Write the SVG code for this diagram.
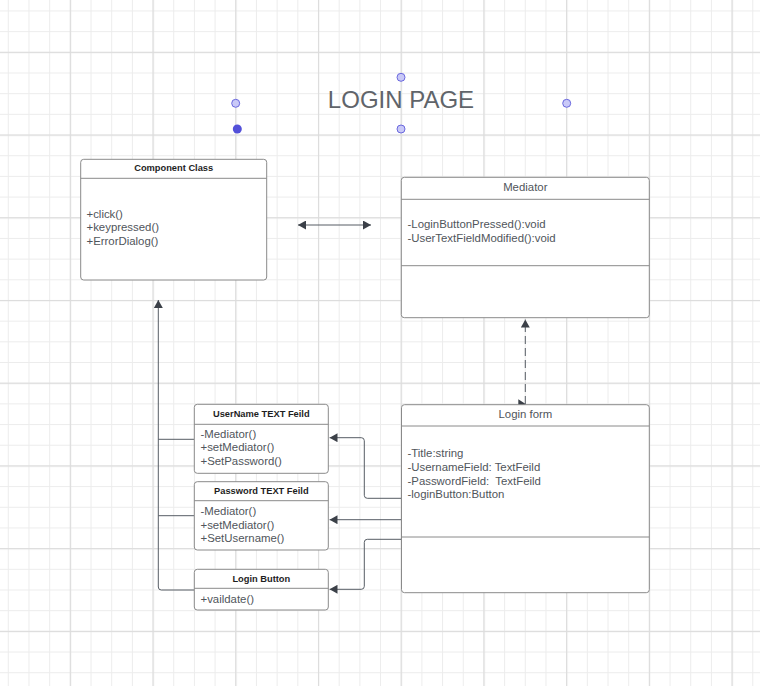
<svg xmlns="http://www.w3.org/2000/svg" width="760" height="686" viewBox="0 0 760 686">
<style>
.box{fill:#ffffff;stroke:#8a8a8a;stroke-width:1}
.div{stroke:#8a8a8a;stroke-width:1;fill:none}
.t{font-family:"Liberation Sans",Arial,sans-serif;font-size:11.4px;fill:#50555b;white-space:pre}
.b{font-family:"Liberation Sans",Arial,sans-serif;font-size:9.3px;font-weight:bold;fill:#1e1e1e;text-anchor:middle}
.h{font-family:"Liberation Sans",Arial,sans-serif;font-size:11.4px;fill:#50555b;text-anchor:middle}
.c{fill:none;stroke:#575d65;stroke-width:1}
.hl{fill:#c9c9f7;stroke:#6a68de;stroke-width:1}
</style>
<defs>
<pattern id="minor" x="7.8" y="10.46" width="20.68" height="20.68" patternUnits="userSpaceOnUse">
<rect x="0" y="0" width="1" height="20.68" fill="#ececec"/>
<rect x="0" y="0" width="20.68" height="1" fill="#ececec"/>
</pattern>
<pattern id="major" x="69.8" y="51.8" width="82.72" height="82.72" patternUnits="userSpaceOnUse">
<rect x="0" y="0" width="1.2" height="82.72" fill="#dcdcdc"/>
<rect x="0" y="0" width="82.72" height="1.2" fill="#dcdcdc"/>
</pattern>
<marker id="ah" viewBox="0 0 10 10" refX="10" refY="5" markerWidth="8" markerHeight="9" markerUnits="userSpaceOnUse" orient="auto-start-reverse" preserveAspectRatio="none">
<path d="M0 0 L10 5 L0 10 z" fill="#3b4048"/>
</marker>
</defs>
<rect width="760" height="686" fill="#ffffff"/>
<rect width="760" height="686" fill="url(#minor)"/>
<rect width="760" height="686" fill="url(#major)"/>

<g id="title">
<text x="401" y="108" font-family="'Liberation Sans',Arial,sans-serif" font-size="24" fill="#60646a" text-anchor="middle">LOGIN PAGE</text>
<circle class="hl" cx="235.7" cy="103.3" r="4"/>
<circle class="hl" cx="401" cy="77.3" r="4"/>
<circle class="hl" cx="566.7" cy="103.3" r="4"/>
<circle class="hl" cx="401" cy="129" r="4"/>
<circle cx="237.3" cy="129" r="4.5" fill="#5350d9"/>
</g>

<g id="connectors">
<path class="c" d="M194 590 H161.3 Q158.3 590 158.3 587 V300" marker-end="url(#ah)"/>
<path class="c" d="M194 439.3 H158.3"/>
<path class="c" d="M194 515.7 H158.3"/>
<path class="c" d="M298 225 H371" marker-start="url(#ah)" marker-end="url(#ah)"/>
<path class="c" d="M525.3 404 V319.5" stroke-dasharray="8 4" marker-end="url(#ah)"/>
<polygon points="518.3,399.3 526,404.3 518.3,409.3" fill="#3b4048"/>
<path class="c" d="M401.5 498.3 H367.3 Q364.3 498.3 364.3 495.3 V440.7 Q364.3 437.7 361.3 437.7 H329.5" marker-end="url(#ah)"/>
<path class="c" d="M401.5 519.7 H329.5" marker-end="url(#ah)"/>
<path class="c" d="M401.5 539.3 H367.3 Q364.3 539.3 364.3 542.3 V586.3 Q364.3 589.3 361.3 589.3 H329.5" marker-end="url(#ah)"/>
</g>

<g id="component-class">
<rect class="box" x="80.7" y="159.3" width="186" height="120.7" rx="3"/>
<path class="div" d="M80.7 178.3 H266.7"/>
<text class="b" x="173.7" y="171.3">Component Class</text>
<text class="t" x="86.5" y="217.5">+click()</text>
<text class="t" x="86.5" y="231.2">+keypressed()</text>
<text class="t" x="86.5" y="244.9">+ErrorDialog()</text>
</g>

<g id="mediator">
<rect class="box" x="401.3" y="177.3" width="248" height="140.4" rx="3"/>
<path class="div" d="M401.3 199.3 H649.3 M401.3 265.7 H649.3"/>
<text class="h" x="525.3" y="191">Mediator</text>
<text class="t" x="407.5" y="228">-LoginButtonPressed():void</text>
<text class="t" x="407.5" y="242">-UserTextFieldModified():void</text>
</g>

<g id="login-form">
<rect class="box" x="401.5" y="404.7" width="247.8" height="188" rx="3"/>
<path class="div" d="M401.5 426 H649.3 M401.5 537 H649.3"/>
<text class="h" x="525.4" y="418.3">Login form</text>
<text class="t" x="407.5" y="457.3">-Title:string</text>
<text class="t" x="407.5" y="471">-UsernameField: TextFeild</text>
<text class="t" x="407.5" y="484.7">-PasswordField:&#160; TextFeild</text>
<text class="t" x="407.5" y="498.4">-loginButton:Button</text>
</g>

<g id="username-field">
<rect class="box" x="194.3" y="404.3" width="134" height="69" rx="3"/>
<path class="div" d="M194.3 424.3 H328.3"/>
<text class="b" x="261.3" y="417.3">UserName TEXT Feild</text>
<text class="t" x="200.5" y="437.7">-Mediator()</text>
<text class="t" x="200.5" y="451.4">+setMediator()</text>
<text class="t" x="200.5" y="465.1">+SetPassword()</text>
</g>

<g id="password-field">
<rect class="box" x="194.3" y="481.7" width="134" height="68.3" rx="3"/>
<path class="div" d="M194.3 500.7 H328.3"/>
<text class="b" x="261.3" y="494">Password TEXT Feild</text>
<text class="t" x="200.5" y="514.8">-Mediator()</text>
<text class="t" x="200.5" y="528.5">+setMediator()</text>
<text class="t" x="200.5" y="542.2">+SetUsername()</text>
</g>

<g id="login-button">
<rect class="box" x="194.3" y="569.3" width="134" height="40.7" rx="3"/>
<path class="div" d="M194.3 588.3 H328.3"/>
<text class="b" x="261.3" y="581.5">Login Button</text>
<text class="t" x="200.5" y="603">+vaildate()</text>
</g>
</svg>
